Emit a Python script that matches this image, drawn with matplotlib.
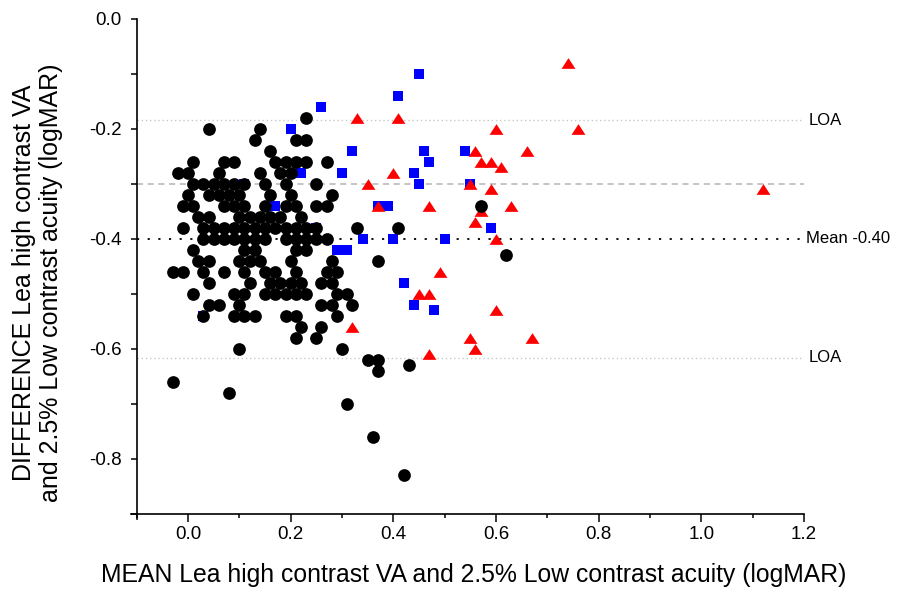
import matplotlib.pyplot as plt
from matplotlib.ticker import MultipleLocator

plt.rcParams["font.family"] = ["Liberation Sans", "DejaVu Sans"]

# (mean, difference) pairs, logMAR
black_points = [
    (0.23, -0.18),
    (0.04, -0.20), (0.14, -0.20),
    (0.13, -0.22), (0.21, -0.22), (0.23, -0.22),
    (0.16, -0.24),
    (0.01, -0.26), (0.07, -0.26), (0.09, -0.26), (0.17, -0.26), (0.19, -0.26),
    (0.21, -0.26), (0.23, -0.26), (0.27, -0.26),
    (-0.02, -0.28), (0.00, -0.28), (0.06, -0.28), (0.14, -0.28), (0.18, -0.28),
    (0.20, -0.28),
    (0.01, -0.30), (0.03, -0.30), (0.05, -0.30), (0.07, -0.30), (0.09, -0.30),
    (0.11, -0.30), (0.15, -0.30), (0.19, -0.30), (0.25, -0.30),
    (0.00, -0.32), (0.04, -0.32), (0.06, -0.32), (0.08, -0.32), (0.10, -0.32),
    (0.16, -0.32), (0.20, -0.32), (0.28, -0.32),
    (-0.01, -0.34), (0.01, -0.34), (0.07, -0.34), (0.09, -0.34), (0.11, -0.34),
    (0.15, -0.34), (0.19, -0.34), (0.21, -0.34), (0.25, -0.34), (0.27, -0.34),
    (0.57, -0.34),
    (0.02, -0.36), (0.04, -0.36), (0.10, -0.36), (0.12, -0.36), (0.14, -0.36),
    (0.16, -0.36), (0.18, -0.36), (0.22, -0.36),
    (-0.01, -0.38), (0.03, -0.38), (0.05, -0.38), (0.07, -0.38), (0.09, -0.38),
    (0.11, -0.38), (0.13, -0.38), (0.15, -0.38), (0.17, -0.38), (0.19, -0.38),
    (0.21, -0.38), (0.23, -0.38), (0.25, -0.38), (0.33, -0.38), (0.41, -0.38),
    (0.03, -0.40), (0.05, -0.40), (0.07, -0.40), (0.09, -0.40), (0.11, -0.40),
    (0.13, -0.40), (0.15, -0.40), (0.19, -0.40), (0.21, -0.40), (0.23, -0.40),
    (0.25, -0.40), (0.27, -0.40),
    (0.01, -0.42), (0.11, -0.42), (0.13, -0.42), (0.21, -0.42), (0.23, -0.42),
    (0.62, -0.43),
    (0.02, -0.44), (0.04, -0.44), (0.10, -0.44), (0.12, -0.44), (0.14, -0.44),
    (0.20, -0.44), (0.28, -0.44), (0.37, -0.44),
    (-0.03, -0.46), (-0.01, -0.46), (0.03, -0.46), (0.07, -0.46), (0.11, -0.46),
    (0.15, -0.46), (0.17, -0.46), (0.21, -0.46), (0.27, -0.46), (0.29, -0.46),
    (0.04, -0.48), (0.12, -0.48), (0.16, -0.48), (0.18, -0.48), (0.20, -0.48),
    (0.22, -0.48), (0.26, -0.48), (0.28, -0.48),
    (0.01, -0.50), (0.09, -0.50), (0.11, -0.50), (0.15, -0.50), (0.17, -0.50),
    (0.19, -0.50), (0.21, -0.50), (0.23, -0.50), (0.29, -0.50), (0.31, -0.50),
    (0.04, -0.52), (0.06, -0.52), (0.10, -0.52), (0.26, -0.52), (0.28, -0.52),
    (0.32, -0.52),
    (0.03, -0.54), (0.09, -0.54), (0.11, -0.54), (0.13, -0.54), (0.19, -0.54),
    (0.21, -0.54), (0.29, -0.54),
    (0.22, -0.56), (0.26, -0.56),
    (0.21, -0.58), (0.25, -0.58),
    (0.10, -0.60), (0.30, -0.60),
    (0.35, -0.62), (0.37, -0.62), (0.43, -0.63), (0.37, -0.64),
    (-0.03, -0.66), (0.08, -0.68), (0.31, -0.70), (0.36, -0.76), (0.42, -0.83),
]

blue_points = [
    (0.45, -0.10), (0.41, -0.14), (0.26, -0.16), (0.20, -0.20), (0.32, -0.24),
    (0.46, -0.24), (0.54, -0.24), (0.47, -0.26), (0.22, -0.28), (0.30, -0.28),
    (0.44, -0.28), (0.45, -0.30), (0.55, -0.30), (0.11, -0.30), (0.17, -0.34),
    (0.37, -0.34), (0.39, -0.34), (0.25, -0.38), (0.59, -0.38), (0.34, -0.40),
    (0.40, -0.40), (0.50, -0.40), (0.29, -0.42), (0.31, -0.42), (0.42, -0.48),
    (0.44, -0.52), (0.48, -0.53), (0.03, -0.54),
]

red_points = [
    (0.33, -0.18), (0.41, -0.18), (0.74, -0.08), (0.60, -0.20), (0.76, -0.20),
    (0.56, -0.24), (0.66, -0.24), (0.57, -0.26), (0.59, -0.26), (0.61, -0.27),
    (0.40, -0.28), (0.35, -0.30), (0.55, -0.30), (0.59, -0.31), (1.12, -0.31),
    (0.37, -0.34), (0.47, -0.34), (0.63, -0.34), (0.57, -0.35), (0.56, -0.37),
    (0.60, -0.40), (0.49, -0.46), (0.45, -0.50), (0.47, -0.50), (0.60, -0.53),
    (0.32, -0.56), (0.55, -0.58), (0.67, -0.58), (0.56, -0.60), (0.47, -0.61),
]

mean_diff = -0.40
loa_upper = -0.184
loa_lower = -0.616
ref_level = -0.30

fig = plt.figure(figsize=(9.07, 5.91), dpi=100)
ax = fig.add_axes([0.1507, 0.1303, 0.7357, 0.8376])

ax.axhline(loa_upper, color="#c8c8c8", lw=1, ls=(0, (1, 2)), zorder=1)
ax.axhline(loa_lower, color="#c8c8c8", lw=1, ls=(0, (1, 2)), zorder=1)
ax.axhline(ref_level, color="#b4b4b4", lw=1.1, ls=(0, (4, 3)), zorder=1)
ax.axhline(mean_diff, color="black", lw=1.3, ls=(0, (1.2, 4.7)), zorder=1)

bx, by = zip(*blue_points)
rx, ry = zip(*red_points)
kx, ky = zip(*black_points)
ax.scatter(bx, by, marker="s", s=62, c="#0000ff", linewidths=0, zorder=3)
tri = [(0, 0.77), (-1, -0.77), (1, -0.77)]
ax.scatter(rx, ry, marker=tri, s=100, c="#ff0000", linewidths=0, zorder=4)
ax.scatter(kx, ky, marker="o", s=84, c="black", linewidths=0, zorder=5)

ax.set_xlim(-0.1, 1.2)
ax.set_ylim(-0.9, 0.0)
ax.xaxis.set_major_locator(MultipleLocator(0.2))
ax.xaxis.set_minor_locator(MultipleLocator(0.1))
ax.yaxis.set_major_locator(MultipleLocator(0.2))
ax.yaxis.set_minor_locator(MultipleLocator(0.1))
ax.xaxis.set_major_formatter(plt.FuncFormatter(lambda v, p: f"{v:.1f}"))
ax.yaxis.set_major_formatter(plt.FuncFormatter(lambda v, p: f"{v:.1f}"))

for side in ["top", "right"]:
    ax.spines[side].set_visible(False)
for side in ["left", "bottom"]:
    ax.spines[side].set_linewidth(1.2)
ax.spines["bottom"].set_bounds(-0.112, 1.2)
ax.spines["left"].set_bounds(-0.91, 0.0)

ax.tick_params(axis="x", which="major", direction="out", length=5.5, width=1.1,
               pad=3.5, labelsize=13.5)
ax.tick_params(axis="x", which="minor", direction="out", length=3, width=1.1)
ax.tick_params(axis="y", which="major", direction="out", length=4, width=1.1,
               pad=7, labelsize=13.5)
ax.tick_params(axis="y", which="minor", direction="out", length=4, width=1.1)

ax.set_xlabel("MEAN Lea high contrast VA and 2.5% Low contrast acuity (logMAR)",
              fontsize=17.8)
ax.xaxis.set_label_coords(0.505, -0.10)
ax.set_ylabel("DIFFERENCE Lea high contrast VA\nand 2.5% Low contrast acuity (logMAR)",
              fontsize=18, linespacing=1.15)
ax.yaxis.set_label_coords(-0.11, 0.467)

for y, label, dx in [(loa_upper, "LOA", 3), (mean_diff, "Mean -0.40", 1.5),
                     (loa_lower, "LOA", 3)]:
    ax.annotate(label, xy=(1, y), xycoords=("axes fraction", "data"),
                xytext=(dx, 0), textcoords="offset points",
                ha="left", va="center", fontsize=12, annotation_clip=False)

fig.savefig("out.png", dpi=100)
